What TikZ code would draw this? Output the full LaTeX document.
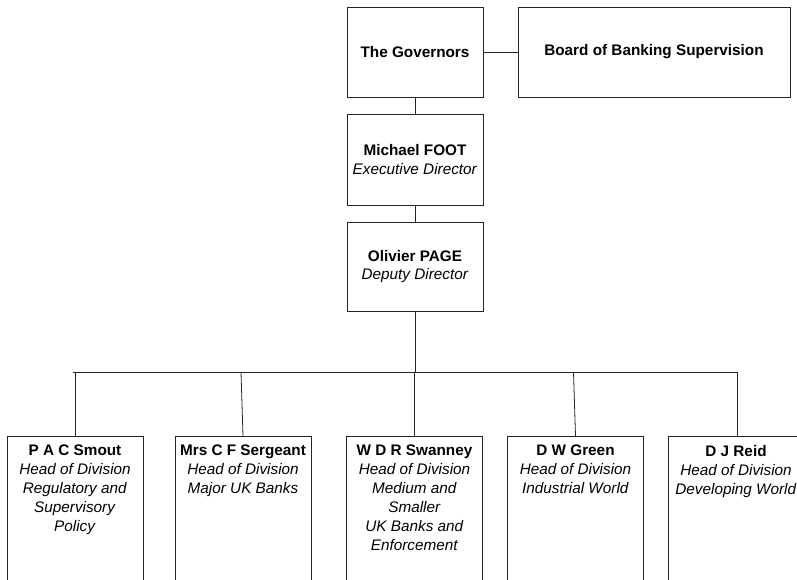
\documentclass[tikz,border=0pt]{standalone}
\usepackage{fontspec}
\setmainfont{Liberation Sans}
\begin{document}
\begin{tikzpicture}[x=1pt,y=-1pt,
  every node/.style={font=\fontsize{15.3}{18.5}\selectfont},
  topbox/.style={draw=black!85, line width=0.8pt, rectangle, minimum width=136pt, minimum height=90pt, align=center, inner sep=0pt},
  lowbox/.style={draw=black!85, line width=0.8pt, rectangle, minimum width=136pt, minimum height=200pt, anchor=north, inner sep=0pt},
  lowtext/.style={anchor=north, align=center, inner sep=0pt, font=\fontsize{15.3}{19}\selectfont},
  conn/.style={draw=black!85, line width=0.8pt}]
\useasboundingbox (0,0) rectangle (797,579);
\clip (0,0) rectangle (797,579);
% top hierarchy
\node[topbox] (gov) at (415,52) {\textbf{The Governors}};
\node[topbox, minimum width=272pt] (board) at (654,52) {\textbf{Board of Banking Supervision}};
\node[topbox, minimum height=91pt] (foot) at (415,159.5) {\textbf{Michael FOOT}\\\textit{Executive Director}};
\node[topbox, minimum height=89pt] (page) at (415,266.5) {\textbf{Olivier PAGE}\\\textit{Deputy Director}};
% bottom boxes
\node[lowbox] (smout) at (75,436) {};
\node[lowbox] (serg) at (243,436) {};
\node[lowbox] (swan) at (414.5,436) {};
\node[lowbox] (green) at (575.5,436) {};
\node[lowbox] (reid) at (736,436) {};
\node[lowtext] (tsmout) at (75,445) {\textbf{P A C Smout}\\\textit{Head of Division}\\\textit{Regulatory and}\\\textit{Supervisory}\\\textit{Policy}};
\node[lowtext] (tserg) at (243,445) {\textbf{Mrs C F Sergeant}\\\textit{Head of Division}\\\textit{Major UK Banks}};
\node[lowtext] (tswan) at (414.5,445) {\textbf{W D R Swanney}\\\textit{Head of Division}\\\textit{Medium and}\\\textit{Smaller}\\\textit{UK Banks and}\\\textit{Enforcement}};
\node[lowtext] (tgreen) at (575.5,445) {\textbf{D W Green}\\\textit{Head of Division}\\\textit{Industrial World}};
\node[lowtext] (treid) at (736,445) {\textbf{D J Reid}\\\textit{Head of Division}\\\textit{Developing World}};
% connectors
\coordinate (busL) at (73,372);
\coordinate (busR) at (737,372);
\draw[conn] (gov.east) -- (board.west);
\draw[conn] (gov.south) -- (foot.north);
\draw[conn] (foot.south) -- (page.north);
\draw[conn] (page.south) -- (page.south |- busL);
\draw[conn] (busL) -- (busR);
\draw[conn] (smout.north |- busL) -- (smout.north);
\draw[conn] ([xshift=-2pt]serg.north |- busL) -- (serg.north);
\draw[conn] (swan.north |- busL) -- (swan.north);
\draw[conn] ([xshift=-2pt]green.north |- busL) -- (green.north);
\draw[conn] (busR) -- (busR |- reid.north);
\end{tikzpicture}
\end{document}
